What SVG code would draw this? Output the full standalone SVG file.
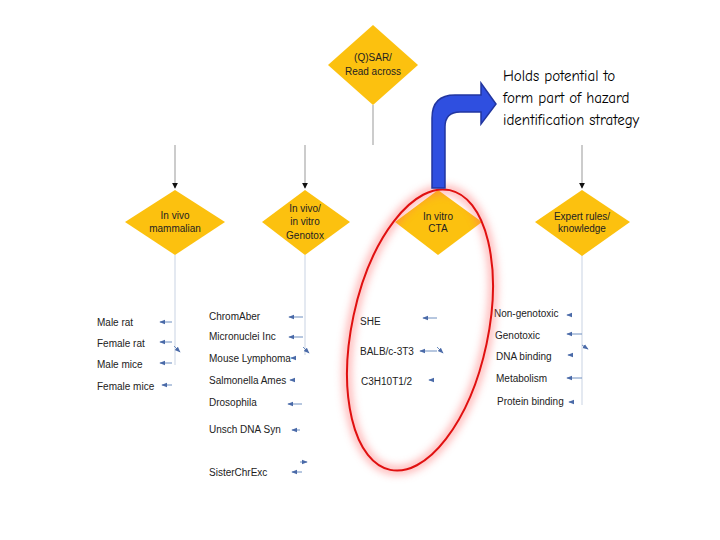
<svg xmlns="http://www.w3.org/2000/svg" width="720" height="540" viewBox="0 0 720 540">
<defs>
<style>
.d{fill:#fcc10f}
.t{font-family:"Liberation Sans",Arial,sans-serif;font-size:10px;fill:#222}
.c{text-anchor:middle}
.l{stroke:#c9d3e3;stroke-width:1;fill:none}
.k{stroke:#999;stroke-width:1;fill:none}
.a{stroke:#6f8fc0;stroke-width:1;fill:none;marker-end:url(#ab)}
.h{font-family:"Comic Neue","DejaVu Sans",sans-serif;font-size:15px;fill:#000}
</style>
<marker id="ab" viewBox="0 0 8 8" refX="7" refY="4" markerWidth="6" markerHeight="6" orient="auto"><path d="M0,1 L8,4 L0,7z" fill="#4a6aa8"/></marker>
<marker id="ak" viewBox="0 0 8 8" refX="7" refY="4" markerWidth="6" markerHeight="6" orient="auto"><path d="M0,0 L8,4 L0,8z" fill="#111"/></marker>
<filter id="g" x="-30%" y="-30%" width="160%" height="160%"><feGaussianBlur stdDeviation="4"/></filter>
</defs>
<g id="connectors">
<path class="k" d="M373,105 V145"/>
<path class="k" d="M175,145 V188" marker-end="url(#ak)"/>
<path class="k" d="M305,145 V188" marker-end="url(#ak)"/>
<path class="k" d="M582,145 V188" marker-end="url(#ak)"/>
<path class="l" d="M175,255 V365"/>
<path class="l" d="M305,255 V355"/>
<path class="l" d="M582,255 V405"/>
<path class="a" d="M172,322 H160"/>
<path class="a" d="M172,342 H160"/>
<path class="a" d="M174,346 L180,352"/>
<path class="a" d="M172,363 H160"/>
<path class="a" d="M172,385 H162"/>
<path class="a" d="M303,317 H289"/>
<path class="a" d="M303,337 H289"/>
<path class="a" d="M303,347 L309,353"/>
<path class="a" d="M296,358 H291"/>
<path class="a" d="M295,380 H290"/>
<path class="a" d="M302,404 H288"/>
<path class="a" d="M300,430 H292"/>
<path class="a" d="M300,462 H307"/>
<path class="a" d="M302,472 H292"/>
<path class="a" d="M437,318 H423"/>
<path class="a" d="M437,351 H420"/>
<path class="a" d="M437,347 L443,353"/>
<path class="a" d="M434,380 H429"/>
<path class="a" d="M571,315 H567"/>
<path class="a" d="M582,334 H567"/>
<path class="a" d="M582,345 L588,349"/>
<path class="a" d="M573,355 H568"/>
<path class="a" d="M582,378 H567"/>
<path class="a" d="M573,402 H569"/>
</g>
<g id="n-qsar"><path class="d" d="M373,25 L418,65 L373,105 L328,65z"/><text class="t c" x="373" y="61">(Q)SAR/</text><text class="t c" x="373" y="75">Read across</text></g>
<g id="n-invivo"><path class="d" d="M175,190 L225,222 L175,255 L125,222z"/><text class="t c" x="175" y="219">In vivo</text><text class="t c" x="175" y="232">mammalian</text></g>
<g id="n-genotox"><path class="d" d="M305,190 L350,222 L305,255 L262,222z"/><text class="t c" x="305" y="212">In vivo/</text><text class="t c" x="305" y="225">in vitro</text><text class="t c" x="305" y="239">Genotox</text></g>
<g id="n-cta"><path class="d" d="M438,190 L482,222 L438,255 L395,222z"/><text class="t c" x="438" y="220">In vitro</text><text class="t c" x="438" y="232">CTA</text></g>
<g id="n-expert"><path class="d" d="M582,190 L630,222 L582,256 L535,222z"/><text class="t c" x="582" y="220">Expert rules/</text><text class="t c" x="582" y="232">knowledge</text></g>
<g id="leaves">
<text class="t" x="97" y="326">Male rat</text>
<text class="t" x="97" y="347">Female rat</text>
<text class="t" x="97" y="368">Male mice</text>
<text class="t" x="97" y="390">Female mice</text>
<text class="t" x="209" y="320">ChromAber</text>
<text class="t" x="209" y="340">Micronuclei Inc</text>
<text class="t" x="209" y="362">Mouse Lymphoma</text>
<text class="t" x="209" y="384">Salmonella Ames</text>
<text class="t" x="209" y="406">Drosophila</text>
<text class="t" x="209" y="433">Unsch DNA Syn</text>
<text class="t" x="209" y="476">SisterChrExc</text>
<text class="t" x="360" y="325">SHE</text>
<text class="t" x="360" y="355">BALB/c-3T3</text>
<text class="t" x="361" y="385">C3H10T1/2</text>
<text class="t" x="494" y="317">Non-genotoxic</text>
<text class="t" x="495" y="339">Genotoxic</text>
<text class="t" x="496" y="360">DNA binding</text>
<text class="t" x="496" y="382">Metabolism</text>
<text class="t" x="497" y="405">Protein binding</text>
</g>
<g id="highlight">
<ellipse cx="420" cy="330" rx="68" ry="143" transform="rotate(12 420 330)" fill="none" stroke="#ff6060" stroke-width="8" opacity="0.5" filter="url(#g)"/>
<ellipse cx="420" cy="330" rx="68" ry="143" transform="rotate(12 420 330)" fill="none" stroke="#e01010" stroke-width="2"/>
</g>
<g id="bigarrow">
<path d="M432,188 V118 Q432,95 455,95 H481 V83 L496,104 L481,124 V112 H460 Q445,112 445,127 V188z" fill="#2f4fe0" stroke="#2236a0" stroke-width="1.5"/>
</g>
<g id="note">
<text class="h" x="503" y="81">Holds potential to</text>
<text class="h" x="503" y="103">form part of hazard</text>
<text class="h" x="503" y="125">identification strategy</text>
</g>
</svg>
